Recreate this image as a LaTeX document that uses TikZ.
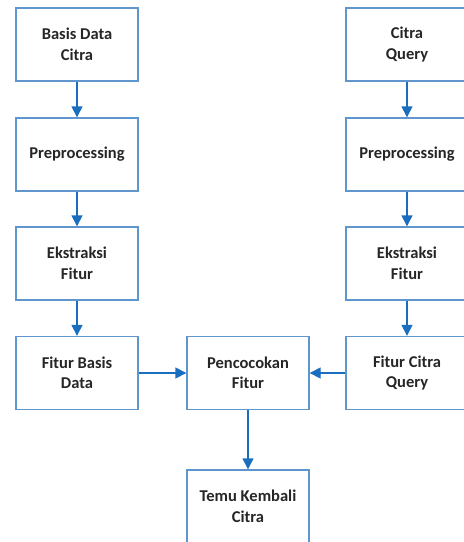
\documentclass[tikz,border=0pt]{standalone}
\usepackage{fontspec}
\setmainfont{Carlito}
\usetikzlibrary{arrows.meta}
\definecolor{boxc}{RGB}{95,150,205}
\definecolor{arrc}{RGB}{25,110,190}
\begin{document}
\begin{tikzpicture}[x=1pt,y=-1pt,
  blk/.style={draw=boxc,line width=1.4pt,fill=white,minimum width=122pt,minimum height=73pt,
    align=center,font=\fontsize{16.5}{20.5}\selectfont\bfseries,text=black!85,inner sep=0pt},
  arr/.style={draw=arrc,line width=1.4pt,-{Triangle[length=11pt,width=11pt]}}]
\useasboundingbox[clip] (0,0) rectangle (464,542);
\fill[white] (0,0) rectangle (464,542);
\node[blk] (bd) at (77,44.5) {Basis Data\\Citra};
\node[blk] (pl) at (77,154.5) {Preprocessing};
\node[blk] (el) at (77,263.5) {Ekstraksi\\Fitur};
\node[blk] (fl) at (77,373) {Fitur Basis\\Data};
\node[blk] (cq) at (407,44.5) {Citra\\Query};
\node[blk] (pr) at (407,154.5) {Preprocessing};
\node[blk] (er) at (407,263.5) {Ekstraksi\\Fitur};
\node[blk] (fr) at (407,373) {Fitur Citra\\Query};
\node[blk] (pf) at (248,373) {Pencocokan\\Fitur};
\node[blk] (tk) at (248,506.5) {Temu Kembali\\Citra};
\draw[arr] (bd) -- (pl);
\draw[arr] (pl) -- (el);
\draw[arr] (el) -- (fl);
\draw[arr] (cq) -- (pr);
\draw[arr] (pr) -- (er);
\draw[arr] (er) -- (fr);
\draw[arr] (fl) -- (pf);
\draw[arr] (fr) -- (pf);
\draw[arr] (pf) -- (tk);
\end{tikzpicture}
\end{document}
